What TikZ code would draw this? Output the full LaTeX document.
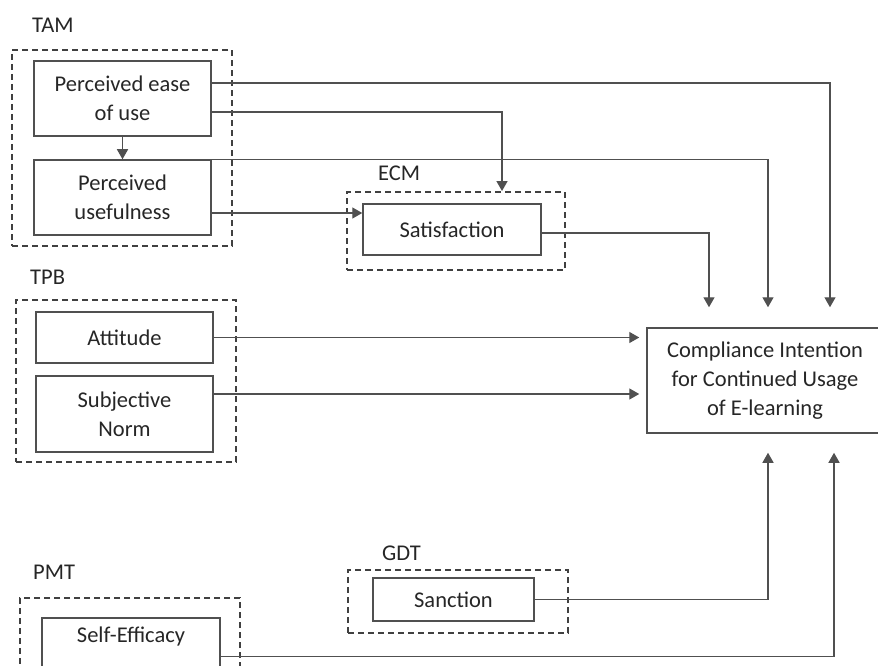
\documentclass[tikz,border=0pt]{standalone}
\usepackage{fontspec}
\setmainfont{Carlito}
\usetikzlibrary{arrows.meta}
\definecolor{txt}{HTML}{262626}
\definecolor{ln}{HTML}{505050}
\definecolor{dsh}{HTML}{404040}
\begin{document}
\begin{tikzpicture}[x=1pt,y=-1pt,
  font=\fontsize{22.5}{29}\selectfont, text=txt,
  box/.style={draw=ln, line width=1.5pt, rectangle, align=center, inner sep=0pt},
  grp/.style={draw=dsh, line width=1.9pt, dash pattern=on 6pt off 4pt, rectangle, inner sep=0pt},
  lbl/.style={anchor=west, inner sep=0pt},
  con/.style={draw=ln, line width=1.4pt},
  arr/.style={con, -{Triangle[width=11pt,length=10pt]}}]
\useasboundingbox (0,0) rectangle (878,666);
% groups
\node[grp, minimum width=220pt, minimum height=196pt] (tam) at (122,148) {};
\node[lbl] (tamL) at (32,25) {TAM};
\node[box, minimum width=177pt, minimum height=75pt] (peou) at (122.5,98.5) {Perceived ease\\of use};
\node[box, minimum width=177pt, minimum height=75pt] (pu) at (122.5,197.5) {Perceived\\usefulness};

\node[grp, minimum width=218pt, minimum height=78pt] (ecm) at (456,231) {};
\node[lbl] (ecmL) at (378,173) {ECM};
\node[box, minimum width=178pt, minimum height=51pt] (sat) at (452,229.5) {Satisfaction};

\node[grp, minimum width=220pt, minimum height=162pt] (tpb) at (126,381) {};
\node[lbl] (tpbL) at (30,277) {TPB};
\node[box, minimum width=177pt, minimum height=51pt] (att) at (124.5,337.5) {Attitude};
\node[box, minimum width=177pt, minimum height=76pt] (sn) at (124.5,414) {Subjective\\Norm};

\node[box, minimum width=236pt, minimum height=105pt] (ci) at (765,380.5) {Compliance Intention\\for Continued Usage\\of E-learning};

\node[grp, minimum width=220pt, minimum height=63pt] (gdt) at (458,601.5) {};
\node[lbl] (gdtL) at (382,553) {GDT};
\node[box, minimum width=161pt, minimum height=43pt] (san) at (453.5,599.5) {Sanction};

\node[grp, minimum width=220pt, minimum height=90pt] (pmt) at (130,643) {};
\node[lbl] (pmtL) at (33,572) {PMT};
\node[box, minimum width=178pt, inner ysep=6pt, text height=19pt, text depth=46pt, anchor=north] (se) at (131,617) {Self-Efficacy};

% connectors
\coordinate (peouA) at ([yshift=15.5pt]peou.east);
\coordinate (peouB) at ([yshift=-13.5pt]peou.east);
\coordinate (puB) at ([yshift=-15.5pt]pu.east);
\coordinate (satA) at ([yshift=-3.5pt]sat.east);
\coordinate (snA) at ([yshift=20pt]sn.east);
\coordinate (ciT1) at ([xshift=65pt]ci.north);
\coordinate (ciT2) at ([xshift=3pt]ci.north);
\coordinate (ciT3) at ([xshift=-56pt]ci.north);
\coordinate (ecmT) at ([xshift=46pt]ecm.north);
\coordinate (ciB1) at ([xshift=3pt]ci.south);
\coordinate (ciB2) at ([xshift=69pt]ci.south);

\draw[arr, shorten >=20pt] (peouA) -| (ciT1);
\draw[arr] (peouB) -| (ecmT);
\draw[arr, shorten >=20pt] (pu.north east) -| (ciT2);
\draw[arr] (puB) -- (puB -| sat.west);
\draw[arr, shorten >=20pt] (satA) -| (ciT3);
\draw[arr, shorten >=7pt] (att.east) -- (att.east -| ci.west);
\draw[arr, shorten >=7pt] (snA) -- (snA -| ci.west);
\draw[arr, shorten >=19pt] (san.east) -| (ciB1);
\draw[arr, shorten >=19pt] (se.east) -| (ciB2);
\draw[arr] (peou.south) -- (pu.north);
\end{tikzpicture}
\end{document}
